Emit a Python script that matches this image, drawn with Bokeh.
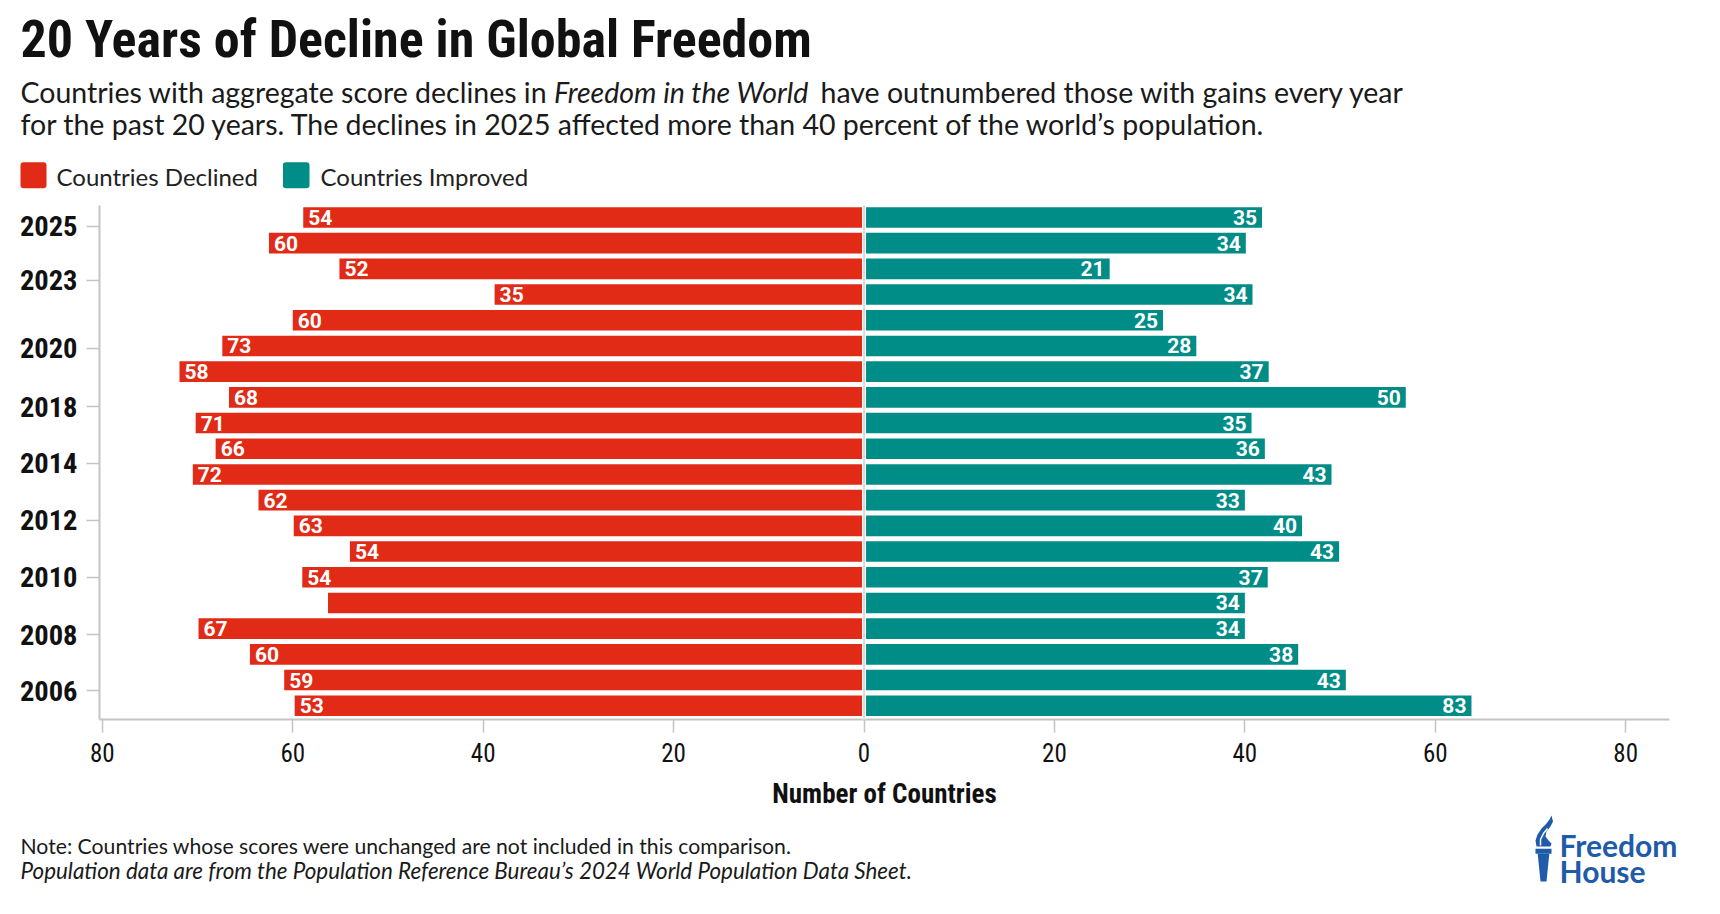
from bokeh.plotting import figure
from bokeh.models import Range1d, FixedTicker, Span, ColumnDataSource
from bokeh.layouts import column
from bokeh.embed import file_html
from bokeh.resources import INLINE
from bokeh.core.properties import value

# ---------------- data ----------------
years = list(range(2025, 2005, -1))  # 20 bars, top to bottom
# bar lengths as drawn in the picture
declined_bar = [58.9, 62.5, 55.1, 38.8, 60.0, 67.4, 71.9, 66.7, 70.2, 68.1,
                70.5, 63.6, 59.9, 54.0, 59.0, 56.3, 69.9, 64.5, 60.9, 59.8]
improved_bar = [41.8, 40.1, 25.8, 40.8, 31.4, 34.9, 42.5, 56.9, 40.7, 42.1,
                49.1, 40.0, 46.0, 49.9, 42.4, 40.0, 40.0, 45.6, 50.6, 63.8]
# value labels as printed on the bars
declined_labels = ["54", "60", "52", "35", "60", "73", "58", "68", "71", "66",
                   "72", "62", "63", "54", "54", "", "67", "60", "59", "53"]
improved_labels = ["35", "34", "21", "34", "25", "28", "37", "50", "35", "36",
                   "43", "33", "40", "43", "37", "34", "34", "38", "43", "83"]
# y-axis tick labels (and where they sit, in bar-row units)
year_tick_labels = ["2025", "2023", "2020", "2018", "2014", "2012", "2010", "2008", "2006"]
year_tick_pos = [0.35, 2.44, 5.08, 7.36, 9.57, 11.78, 14.0, 16.23, 18.42]
x_ticks = [-80, -60, -40, -20, 0, 20, 40, 60, 80]
series_names = ["Countries Declined", "Countries Improved"]

RED = "#E12B17"
TEAL = "#008C87"
AXIS_GREY = "#c4c4c4"
INK = "#111111"
TXT = "#1a1a1a"
BLUE = "#1F5BA8"
NARROW = "Roboto Condensed, Liberation Sans Narrow, DejaVu Sans Condensed, sans-serif"
SANS = "Lato, Open Sans, sans-serif"
LAB = "Roboto, Liberation Sans, sans-serif"
W = 1704


def blank(h):
    return figure(width=W, height=h, x_range=Range1d(0, W), y_range=Range1d(h, 0),
                  x_axis_type=None, y_axis_type=None, toolbar_location=None,
                  output_backend="svg", min_border=0, outline_line_color=None,
                  frame_align=False)


def txt(f, x, y, s, font, size, style="normal", color=TXT):
    f.text(x=[x], y=[y], text=[s], text_font=value(font), text_font_size=size,
           text_font_style=style, text_color=color, text_baseline="alphabetic",
           text_align="left")


# ---------------- header ----------------
hdr = blank(200)
txt(hdr, 20, 39.4, "20 Years of Decline in Global Freedom", NARROW, "52px", "bold", INK)
txt(hdr, 20, 91.5, "Countries with aggregate score declines in", SANS, "28.5px")
txt(hdr, 553.5, 91.5, "Freedom in the World", SANS, "28.5px", "italic")
txt(hdr, 820, 91.5, "have outnumbered those with gains every year", SANS, "28.5px")
txt(hdr, 20, 123.2,
    "for the past 20 years. The declines in 2025 affected more than 40 percent of the world\u2019s population.",
    SANS, "28.5px")
# legend
hdr.quad(left=[20, 282.4], right=[46, 309], top=[161.7, 161.7], bottom=[187.7, 187.7],
         fill_color=[RED, TEAL], line_color=None, border_radius=3)
hdr.text(x=[56, 320], y=[176.1, 176.1], text=series_names,
         text_font=value(SANS), text_font_size="24px", text_color="#222222",
         text_baseline="alphabetic")

# ---------------- main chart ----------------
idx = [2025 - y for y in years]
src = ColumnDataSource(dict(
    y=idx,
    dl=[-v for v in declined_bar],
    im=improved_bar,
    dlab=declined_labels,
    ilab=improved_labels,
))

p = figure(width=W, height=612, x_range=Range1d(-80.3, 84.6), y_range=Range1d(19.535, -0.465),
           toolbar_location=None, output_backend="svg",
           min_border_left=99, min_border_right=35, min_border_top=5, min_border_bottom=91,
           outline_line_color=None, frame_align=False)
p.hbar(y="y", left="dl", right=0, height=0.8, source=src, fill_color=RED, line_color=None)
p.hbar(y="y", left=0, right="im", height=0.8, source=src, fill_color=TEAL, line_color=None)
p.add_layout(Span(location=0, dimension="height", line_color="white", line_width=4))
p.add_layout(Span(location=0, dimension="height", line_color="#cfcfcf", line_width=1.5))

p.text(x="dl", y="y", text="dlab", source=src, x_offset=5, text_align="left",
       text_baseline="middle", text_color="white", text_font=value(LAB),
       text_font_size="21px", text_font_style="bold")
p.text(x="im", y="y", text="ilab", source=src, x_offset=-5, text_align="right",
       text_baseline="middle", text_color="white", text_font=value(LAB),
       text_font_size="21px", text_font_style="bold")

p.xgrid.visible = False
p.ygrid.visible = False

xa = p.xaxis[0]
xa.ticker = FixedTicker(ticks=x_ticks)
xa.major_label_overrides = {t: str(abs(t)) for t in x_ticks}
xa.axis_label = "Number of Countries"
xa.axis_label_text_font = NARROW
xa.axis_label_text_font_style = "bold"
xa.axis_label_text_font_size = "27px"
xa.axis_label_text_color = INK
xa.axis_label_standoff = 13
xa.major_label_text_font = NARROW
xa.major_label_text_font_size = "25px"
xa.major_label_text_color = INK
xa.major_label_standoff = 10
xa.axis_line_color = AXIS_GREY
xa.axis_line_width = 2
xa.major_tick_line_color = AXIS_GREY
xa.major_tick_line_width = 1.5
xa.major_tick_out = 13
xa.major_tick_in = 0
xa.minor_tick_line_color = None

ya = p.yaxis[0]
ya.ticker = FixedTicker(ticks=year_tick_pos)
ya.major_label_overrides = dict(zip(year_tick_pos, year_tick_labels))
ya.major_label_text_font = NARROW
ya.major_label_text_font_style = "bold"
ya.major_label_text_font_size = "28.5px"
ya.major_label_text_color = INK
ya.major_label_standoff = 9
ya.axis_line_color = AXIS_GREY
ya.axis_line_width = 2
ya.major_tick_line_color = AXIS_GREY
ya.major_tick_line_width = 1.5
ya.major_tick_out = 13
ya.major_tick_in = 0
ya.minor_tick_line_color = None

# ---------------- footer ----------------
ftr = blank(86)
txt(ftr, 20, 33.3,
    "Note: Countries whose scores were unchanged are not included in this comparison.",
    SANS, "21.2px")
txt(ftr, 20, 58.0,
    "Population data are from the Population Reference Bureau\u2019s 2024 World Population Data Sheet.",
    SANS, "22.4px", "italic")
# logo
txt(ftr, 1559, 32.3, "Freedom", SANS, "30px", "bold", BLUE)
txt(ftr, 1559, 58.3, "House", SANS, "30px", "bold", BLUE)
flame_x = [1536, 1535, 1537, 1541, 1546, 1549, 1551, 1552.5, 1550, 1546, 1545, 1548, 1551, 1550]
flame_y = [34, 28, 22, 16, 11, 7, 3, 9, 14, 19, 24, 28, 31, 34]
ftr.patch(flame_x, flame_y, fill_color=BLUE, line_color=None)
ftr.line([1540, 1540, 1543, 1547], [33, 27, 21, 16], line_color="white", line_width=1.5)
ftr.quad(left=[1535], right=[1551], top=[36.3], bottom=[41.3], fill_color=BLUE, line_color=None)
ftr.patch([1537.2, 1548.8, 1546, 1540], [41.3, 41.3, 69, 69], fill_color=BLUE, line_color=None)

layout = column(hdr, p, ftr)
open("out.html", "w").write(file_html(layout, INLINE))
